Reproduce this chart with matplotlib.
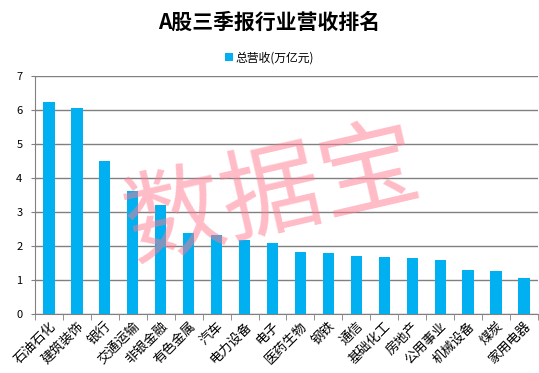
import matplotlib
matplotlib.use('Agg')
import matplotlib.pyplot as plt
import numpy as np

plt.rcParams['font.family'] = ['Noto Sans CJK SC', 'DejaVu Sans']

categories = ['石油石化', '建筑装饰', '银行', '交通运输', '非银金融', '有色金属',
              '汽车', '电力设备', '电子', '医药生物', '钢铁', '通信',
              '基础化工', '房地产', '公用事业', '机械设备', '煤炭', '家用电器']
revenue = [6.24, 6.06, 4.51, 3.62, 3.21, 2.38,
           2.32, 2.18, 2.09, 1.82, 1.79, 1.71,
           1.68, 1.65, 1.59, 1.30, 1.27, 1.06]
yticks = [0, 1, 2, 3, 4, 5, 6, 7]

fig = plt.figure(figsize=(5.39, 3.73), dpi=100)
ax = fig.add_axes([0.065, 0.158, 0.933, 0.638])

x = np.arange(len(categories))
ax.bar(x, revenue, width=0.4, color='#00B0F0', zorder=3, label='总营收(万亿元)')

ax.set_xlim(-0.5, len(categories) - 0.5)
ax.set_ylim(0, 7)
ax.set_yticks(yticks)
ax.tick_params(axis='y', labelsize=8, length=3, color='#808080', pad=6)
ax.yaxis.grid(True, color='#808080', linewidth=1, zorder=0)

ax.set_xticks(x)
ax.set_xticklabels(categories, rotation=45, ha='right', rotation_mode='anchor', fontsize=9.5)
ax.set_xticks(np.arange(len(categories) + 1) - 0.5, minor=True)
ax.tick_params(axis='x', which='major', length=0, pad=4)
ax.tick_params(axis='x', which='minor', length=4, color='#808080')

for s in ['top', 'right']:
    ax.spines[s].set_visible(False)
ax.spines['left'].set_color('#808080')
ax.spines['bottom'].set_color('#808080')

fig.text(0.5, 0.94, 'A股三季报行业营收排名', ha='center', va='center',
         fontsize=15, fontweight='bold')
fig.legend(loc='center', bbox_to_anchor=(0.5, 0.845), frameon=False, fontsize=8.5,
           handlelength=0.7, handleheight=0.7, handletextpad=0.2)

# watermark
fig.text(0.505, 0.475, '数据宝', ha='center', va='center', fontsize=72,
         color='#FF7A90', alpha=0.5, rotation=13, zorder=10)

fig.savefig('out.png', dpi=100)
